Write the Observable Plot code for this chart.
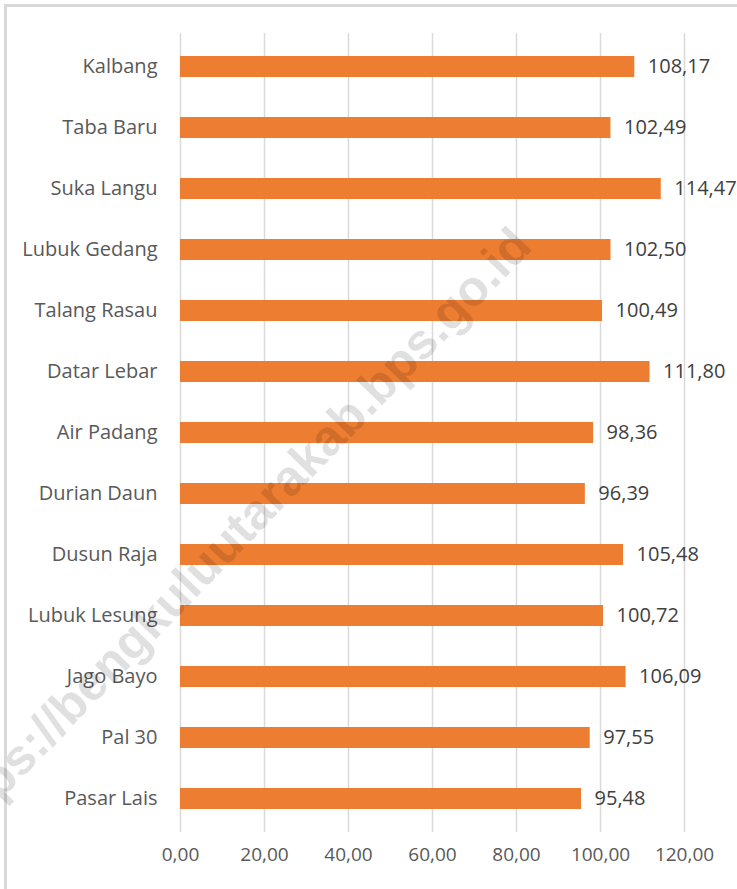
<!DOCTYPE html>
<html>
<head>
<meta charset="utf-8">
<script src="https://cdn.jsdelivr.net/npm/d3@7"></script>
<script src="https://cdn.jsdelivr.net/npm/@observablehq/plot@0.6"></script>
<style>
  html, body { margin: 0; padding: 0; background: #fff; }
  #wrap { position: relative; width: 737px; height: 889px; overflow: hidden; }
  #frame { position: absolute; left: 4px; top: 4px; width: 800px; height: 900px;
           border-left: 3px solid #d9d9d9; border-top: 3px solid #d9d9d9; box-sizing: border-box; }
  #chart { position: absolute; left: 0; top: 0; }
  #wm { position: absolute; left: 0; top: 0; pointer-events: none; }
</style>
</head>
<body>
<div id="wrap">
  <div id="frame"></div>
  <div id="chart"></div>
  <svg id="wm" width="737" height="889">
    <text x="534" y="248" transform="rotate(-46 534 248)" text-anchor="end"
          font-family="Liberation Sans, Arial, sans-serif" font-weight="bold" font-size="50"
          fill="rgba(0,0,0,0.12)">https://bengkuluutarakab.bps.go.id</text>
  </svg>
</div>
<script>
const categories = ["Kalbang", "Taba Baru", "Suka Langu", "Lubuk Gedang", "Talang Rasau", "Datar Lebar",
  "Air Padang", "Durian Daun", "Dusun Raja", "Lubuk Lesung", "Jago Bayo", "Pal 30", "Pasar Lais"];
const values = [108.17, 102.49, 114.47, 102.50, 100.49, 111.80, 98.36, 96.39, 105.48, 100.72, 106.09, 97.55, 95.48];
const xTicks = [0, 20, 40, 60, 80, 100, 120];

const data = categories.map((name, i) => ({name, value: values[i]}));
const fmt = v => d3.format(".2f")(v).replace(".", ",");

const chart = Plot.plot({
  width: 737,
  height: 889,
  marginLeft: 180,
  marginRight: 53,
  marginTop: 33,
  marginBottom: 57,
  style: {fontFamily: "'Open Sans', sans-serif", fontSize: "19px", color: "#595959", background: "transparent"},
  x: {domain: [0, 120], label: null},
  y: {domain: categories, paddingInner: 0.66, paddingOuter: 0.33, label: null},
  marks: [
    Plot.ruleX(xTicks, {stroke: "#d9d9d9", strokeWidth: 1.5}),
    Plot.barX(data, {x: "value", y: "name", fill: "#ED7D31"}),
    Plot.text(data, {x: "value", y: "name", text: d => fmt(d.value), textAnchor: "start", dx: 13,
      fill: "#404040", fontSize: 20}),
    Plot.axisX(xTicks, {tickFormat: fmt, tickSize: 0, tickPadding: 15, fontSize: 19, fill: "#595959"}),
    Plot.axisY({tickSize: 0, tickPadding: 23, fontSize: 20, fill: "#595959"})
  ]
});
document.getElementById("chart").appendChild(chart);
</script>
</body>
</html>
